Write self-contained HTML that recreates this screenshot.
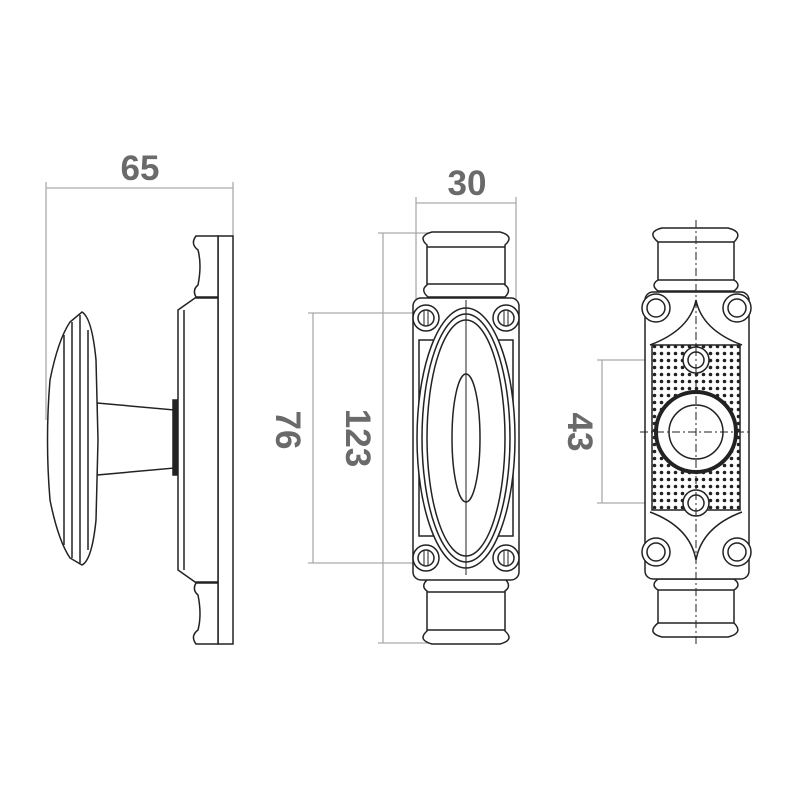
<!DOCTYPE html>
<html><head><style>html,body{margin:0;background:#fff}svg{display:block}</style></head><body>
<svg width="800" height="800" viewBox="0 0 800 800" xmlns="http://www.w3.org/2000/svg">
<defs>
<pattern id="dots" width="7" height="7" patternUnits="userSpaceOnUse"><circle cx="3.5" cy="3.5" r="1.8" fill="#222"/></pattern>
</defs>
<g font-family="Liberation Sans, sans-serif" font-size="35" fill="#6a6a6a" font-weight="bold">
<text x="140" y="180" text-anchor="middle">65</text>
<text x="467" y="195" text-anchor="middle">30</text>
<text transform="translate(276,430) rotate(90)" text-anchor="middle">76</text>
<text transform="translate(346,438) rotate(90)" text-anchor="middle">123</text>
<text transform="translate(568,432) rotate(90)" text-anchor="middle">43</text>
</g>
<g stroke="#aaa" stroke-width="1.3" fill="none">
<line x1="46" y1="188" x2="233" y2="188"/><line x1="46" y1="182" x2="46" y2="420"/><line x1="233" y1="182" x2="233" y2="240"/>
<line x1="416" y1="203" x2="516" y2="203"/><line x1="416" y1="197" x2="416" y2="300"/><line x1="516" y1="197" x2="516" y2="300"/>
<line x1="383" y1="233" x2="383" y2="643"/><line x1="378" y1="233" x2="460" y2="233"/><line x1="378" y1="643" x2="460" y2="643"/>
<line x1="313" y1="313" x2="313" y2="563"/><line x1="308" y1="313" x2="425" y2="313"/><line x1="308" y1="563" x2="425" y2="563"/>
<line x1="602" y1="360" x2="602" y2="503"/><line x1="597" y1="360" x2="690" y2="360"/><line x1="597" y1="503" x2="690" y2="503"/>
</g>
<g stroke="#222" stroke-width="1.5" fill="#fff">
<!-- side view -->
<rect x="218" y="236" width="15" height="408"/>
<path d="M196 236 H218 V297 H196 Q192 290 198 285 Q202 265 198 250 Q190 244 196 236Z"/>
<path d="M196 644 H218 V583 H196 Q192 590 198 595 Q202 615 198 630 Q190 636 196 644Z"/>
<path d="M178 310 L195 298 H218 V582 H195 L178 570Z"/>
<line x1="184" y1="310" x2="184" y2="570"/>
<path d="M97 403 L175 410 V468 L97 475Z"/>
<rect x="173" y="400" width="4" height="75" fill="#222"/>
<path d="M70 322 Q58 340 50 380 Q45 440 50 500 Q58 540 70 558 L82 565 Q92 560 96 520 L98 440 L96 360 Q92 318 82 312Z"/>
<line x1="64" y1="335" x2="64" y2="545"/><line x1="72" y1="322" x2="72" y2="558"/><line x1="80" y1="315" x2="80" y2="563"/><line x1="88" y1="330" x2="88" y2="550"/>
<!-- middle view -->
<path d="M432 232 H500 Q515 236 505 245 V285 Q512 290 505 297 H428 Q420 290 427 285 V245 Q417 236 432 232Z"/>
<line x1="427" y1="247" x2="505" y2="247"/><line x1="427" y1="284" x2="505" y2="284"/>
<path d="M432 644 H500 Q515 640 505 631 V591 Q512 586 505 579 H428 Q420 586 427 591 V631 Q417 640 432 644Z"/>
<line x1="427" y1="630" x2="505" y2="630"/><line x1="427" y1="592" x2="505" y2="592"/>
<rect x="413" y="298" width="106" height="282" rx="8"/>
<rect x="419" y="340" width="94" height="196" fill="#fff"/>
<ellipse cx="466" cy="438" rx="49" ry="130"/>
<ellipse cx="466" cy="438" rx="44" ry="124"/>
<ellipse cx="466" cy="438" rx="39" ry="118"/>
<ellipse cx="466" cy="438" rx="14" ry="64"/>
<line x1="466" y1="300" x2="466" y2="575" stroke-width="1"/>
<g><circle cx="426" cy="318" r="13"/><circle cx="426" cy="318" r="8"/><circle cx="506" cy="318" r="13"/><circle cx="506" cy="318" r="8"/>
<circle cx="426" cy="558" r="13"/><circle cx="426" cy="558" r="8"/><circle cx="506" cy="558" r="13"/><circle cx="506" cy="558" r="8"/></g>
<g stroke-width="1"><line x1="424" y1="310" x2="424" y2="326"/><line x1="428" y1="310" x2="428" y2="326"/><line x1="504" y1="310" x2="504" y2="326"/><line x1="508" y1="310" x2="508" y2="326"/>
<line x1="424" y1="550" x2="424" y2="566"/><line x1="428" y1="550" x2="428" y2="566"/><line x1="504" y1="550" x2="504" y2="566"/><line x1="508" y1="550" x2="508" y2="566"/></g>
<!-- right view -->
<path d="M662 228 H728 Q744 232 734 242 V280 Q742 285 734 291 H658 Q650 285 658 280 V242 Q646 232 662 228Z"/>
<line x1="658" y1="242" x2="734" y2="242"/><line x1="658" y1="280" x2="734" y2="280"/>
<path d="M662 637 H728 Q744 633 734 623 V590 Q742 585 734 579 H658 Q650 585 658 590 V623 Q646 633 662 637Z"/>
<line x1="658" y1="623" x2="734" y2="623"/><line x1="658" y1="590" x2="734" y2="590"/>
<rect x="645" y="292" width="104" height="287" rx="8"/>
<rect x="652" y="345" width="88" height="165" fill="url(#dots)"/>
<path d="M650 345 Q690 330 696 300 Q702 330 742 345" fill="none"/>
<path d="M650 512 Q690 527 696 560 Q702 527 742 512" fill="none"/>
<circle cx="696" cy="432" r="40" stroke-width="4"/>
<circle cx="696" cy="432" r="27"/>
<circle cx="696" cy="360" r="13"/><circle cx="696" cy="360" r="8"/>
<circle cx="696" cy="503" r="13"/><circle cx="696" cy="503" r="8"/>
<circle cx="656" cy="308" r="14"/><circle cx="656" cy="308" r="9"/><circle cx="737" cy="308" r="14"/><circle cx="737" cy="308" r="9"/>
<circle cx="656" cy="552" r="14"/><circle cx="656" cy="552" r="9"/><circle cx="737" cy="552" r="14"/><circle cx="737" cy="552" r="9"/>
<line x1="696" y1="220" x2="696" y2="645" stroke-width="1" stroke-dasharray="8 3 2 3"/>
<line x1="640" y1="432" x2="752" y2="432" stroke-width="1" stroke-dasharray="8 3 2 3"/>
</g>
</svg>
</body></html>
